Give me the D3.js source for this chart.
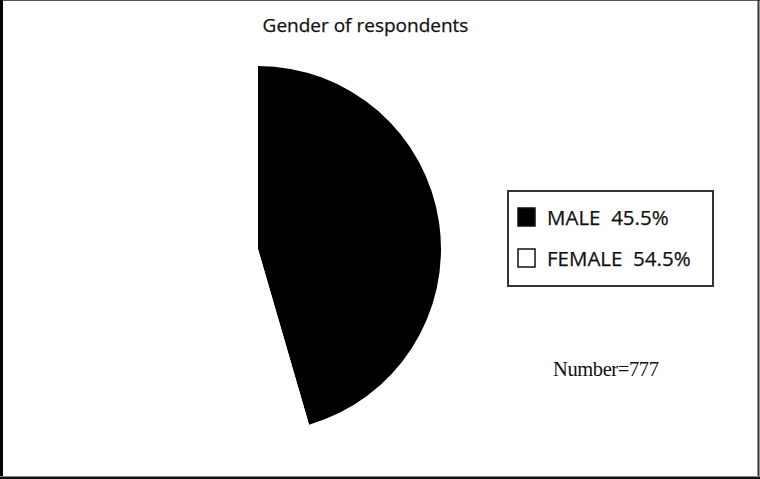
<!DOCTYPE html>
<html><head><meta charset="utf-8">
<script src="https://cdn.jsdelivr.net/npm/d3@7"></script>
<style>body{margin:0;background:#fff}svg{display:block}</style>
</head><body>
<svg id="c" width="760" height="479"></svg>
<script>
const categories = ["MALE", "FEMALE"];
const values = [45.5, 54.5];
const labels = ["MALE  45.5%", "FEMALE  54.5%"];
const title = "Gender of respondents";
const note = "Number=777";
const fills = ["#000", "#fff"];

const svg = d3.select("#c");
// frame
svg.append("rect").attr("x",0).attr("y",0).attr("width",760).attr("height",479).attr("fill","#fff");
svg.append("line").attr("x1",0).attr("x2",760).attr("y1",0.5).attr("y2",0.5).attr("stroke","#555").attr("stroke-width",1);
svg.append("line").attr("x1",1.5).attr("x2",1.5).attr("y1",0).attr("y2",479).attr("stroke","#000").attr("stroke-width",3);
svg.append("line").attr("x1",758.5).attr("x2",758.5).attr("y1",0).attr("y2",479).attr("stroke","#333").attr("stroke-width",2);
svg.append("line").attr("x1",0).attr("x2",760).attr("y1",476.5).attr("y2",476.5).attr("stroke","#888").attr("stroke-width",1);
svg.append("line").attr("x1",0).attr("x2",760).attr("y1",478).attr("y2",478).attr("stroke","#111").attr("stroke-width",2);

svg.append("text").attr("x",365.5).attr("y",32).attr("text-anchor","middle")
  .attr("font-family","Open Sans, sans-serif").attr("font-size",19).attr("fill","#111")
  .attr("stroke","#111").attr("stroke-width",0.25).text(title);

const pie = d3.pie().sort(null).value(d=>d);
const arc = d3.arc().innerRadius(0).outerRadius(183);
const g = svg.append("g").attr("transform","translate(258,249)");
g.selectAll("path").data(pie(values)).join("path")
  .attr("d",arc).attr("fill",(d,i)=>fills[i]).attr("stroke","none");

// legend
const lg = svg.append("g");
lg.append("rect").attr("x",508).attr("y",191).attr("width",205).attr("height",95)
  .attr("fill","#fff").attr("stroke","#333").attr("stroke-width",2);
const y = d3.scalePoint().domain(categories).range([217, 258]);
categories.forEach((c,i)=>{
  lg.append("rect").attr("x",518).attr("y",y(c)-9).attr("width",17).attr("height",18)
    .attr("fill",fills[i]).attr("stroke","#111").attr("stroke-width",1.5);
  lg.append("text").attr("x",547).attr("y",y(c)+8).attr("font-family","Open Sans, sans-serif")
    .attr("font-size",20.5).attr("fill","#111").attr("stroke","#111").attr("stroke-width",0.25)
    .attr("xml:space","preserve").style("white-space","pre").text(labels[i]);
});

svg.append("text").attr("x",553).attr("y",376).attr("font-family","Liberation Serif, serif")
  .attr("font-size",20.5).attr("letter-spacing",-0.4).attr("fill","#111").text(note);
</script>
</body></html>
